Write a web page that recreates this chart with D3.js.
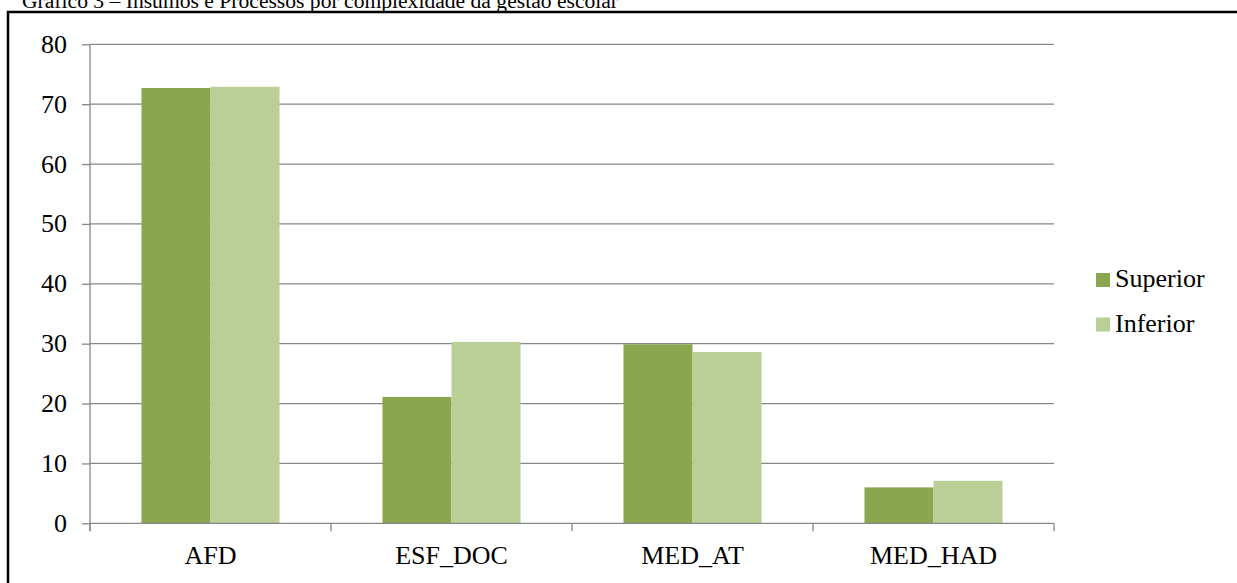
<!DOCTYPE html>
<html>
<head>
<meta charset="utf-8">
<script src="https://cdn.jsdelivr.net/npm/d3@7"></script>
<style>
  html, body { margin: 0; padding: 0; background: #fff; }
  svg { display: block; }
  svg text { font-family: 'Liberation Serif', 'Times New Roman', serif !important; fill: #000; }
</style>
</head>
<body>
<script>
// Data
const categories = ["AFD", "ESF_DOC", "MED_AT", "MED_HAD"];
const seriesNames = ["Superior", "Inferior"];
const superiorValues = [72.7, 21.1, 29.9, 6.0];
const inferiorValues = [72.9, 30.3, 28.6, 7.1];
const yTicks = [0, 10, 20, 30, 40, 50, 60, 70, 80];
const titleText = "Gráfico 3 – Insumos e Processos por complexidade da gestão escolar";

const W = 1237, H = 583;
const FS = 26;
const colors = { Superior: "#8AA64F", Inferior: "#BACE97" };
const gridColor = "#878787";

const svg = d3.select("body").append("svg").attr("width", W).attr("height", H);

// Caption above the frame (partially clipped at the top)
svg.append("text")
  .attr("x", 22).attr("y", 7.5)
  .style("font-size", "21.6px")
  .text(titleText);

// Outer frame
svg.append("path")
  .attr("d", `M8,${H + 5} L8,12 L${W + 5},12`)
  .attr("fill", "none").attr("stroke", "#000").attr("stroke-width", 2.5);

const plot = { left: 90, right: 1054, top: 44.3, bottom: 523.3 };

const x = d3.scaleBand().domain(categories).range([plot.left, plot.right]).paddingInner(0).paddingOuter(0);
const y = d3.scaleLinear().domain([0, 80]).range([plot.bottom, plot.top]);
const inner = d3.scaleBand().domain(seriesNames).range([0, x.bandwidth()]).paddingInner(0).paddingOuter(0.746);

const g = svg.append("g");

// Horizontal gridlines
g.selectAll("line.grid").data(yTicks.filter(t => t > 0)).join("line")
  .attr("class", "grid")
  .attr("x1", plot.left).attr("x2", plot.right)
  .attr("y1", d => y(d)).attr("y2", d => y(d))
  .attr("stroke", gridColor).attr("stroke-width", 1.3);

// Y axis
const yAxis = d3.axisLeft(y).tickValues(yTicks).tickSize(8).tickPadding(15).tickFormat(d3.format("d"));
const ya = svg.append("g").attr("transform", `translate(${plot.left},0)`).call(yAxis)
  .attr("font-family", null).attr("font-size", null);
ya.select(".domain").attr("stroke", gridColor).attr("stroke-width", 1.3)
  .attr("d", `M-0,${plot.top}V${plot.bottom + 8}`);
ya.selectAll(".tick line").attr("stroke", gridColor).attr("stroke-width", 1.3);
ya.selectAll(".tick text").style("font-size", FS + "px").attr("dy", "0.31em");

// Bars
const groups = g.selectAll("g.cat").data(categories).join("g")
  .attr("class", "cat")
  .attr("transform", d => `translate(${x(d)},0)`);

groups.selectAll("rect").data((d, i) => [
  { s: "Superior", v: superiorValues[i] },
  { s: "Inferior", v: inferiorValues[i] }
]).join("rect")
  .attr("x", d => inner(d.s))
  .attr("width", inner.bandwidth())
  .attr("y", d => y(d.v))
  .attr("height", d => y(0) - y(d.v))
  .attr("fill", d => colors[d.s]);

// X axis
const xAxis = d3.axisBottom(x).tickSize(0).tickPadding(22);
const xa = svg.append("g").attr("transform", `translate(0,${plot.bottom})`).call(xAxis)
  .attr("font-family", null).attr("font-size", null);
xa.select(".domain").attr("stroke", gridColor).attr("stroke-width", 1.3)
  .attr("d", `M${plot.left},0H${plot.right}`);
xa.selectAll(".tick text").style("font-size", FS + "px");

// Category boundary ticks
const bounds = categories.map(c => x(c)).concat([plot.right]);
xa.selectAll("line.bound").data(bounds).join("line")
  .attr("class", "bound")
  .attr("x1", d => d).attr("x2", d => d)
  .attr("y1", 0).attr("y2", 8)
  .attr("stroke", gridColor).attr("stroke-width", 1.3);

// Legend
const legend = svg.append("g").attr("transform", "translate(1096,273)");
const items = legend.selectAll("g").data(seriesNames).join("g")
  .attr("transform", (d, i) => `translate(0,${i * 44.5})`);
items.append("rect").attr("width", 14).attr("height", 14).attr("fill", d => colors[d]);
items.append("text").attr("x", 19).attr("y", 14).style("font-size", FS + "px").text(d => d);
</script>
</body>
</html>
